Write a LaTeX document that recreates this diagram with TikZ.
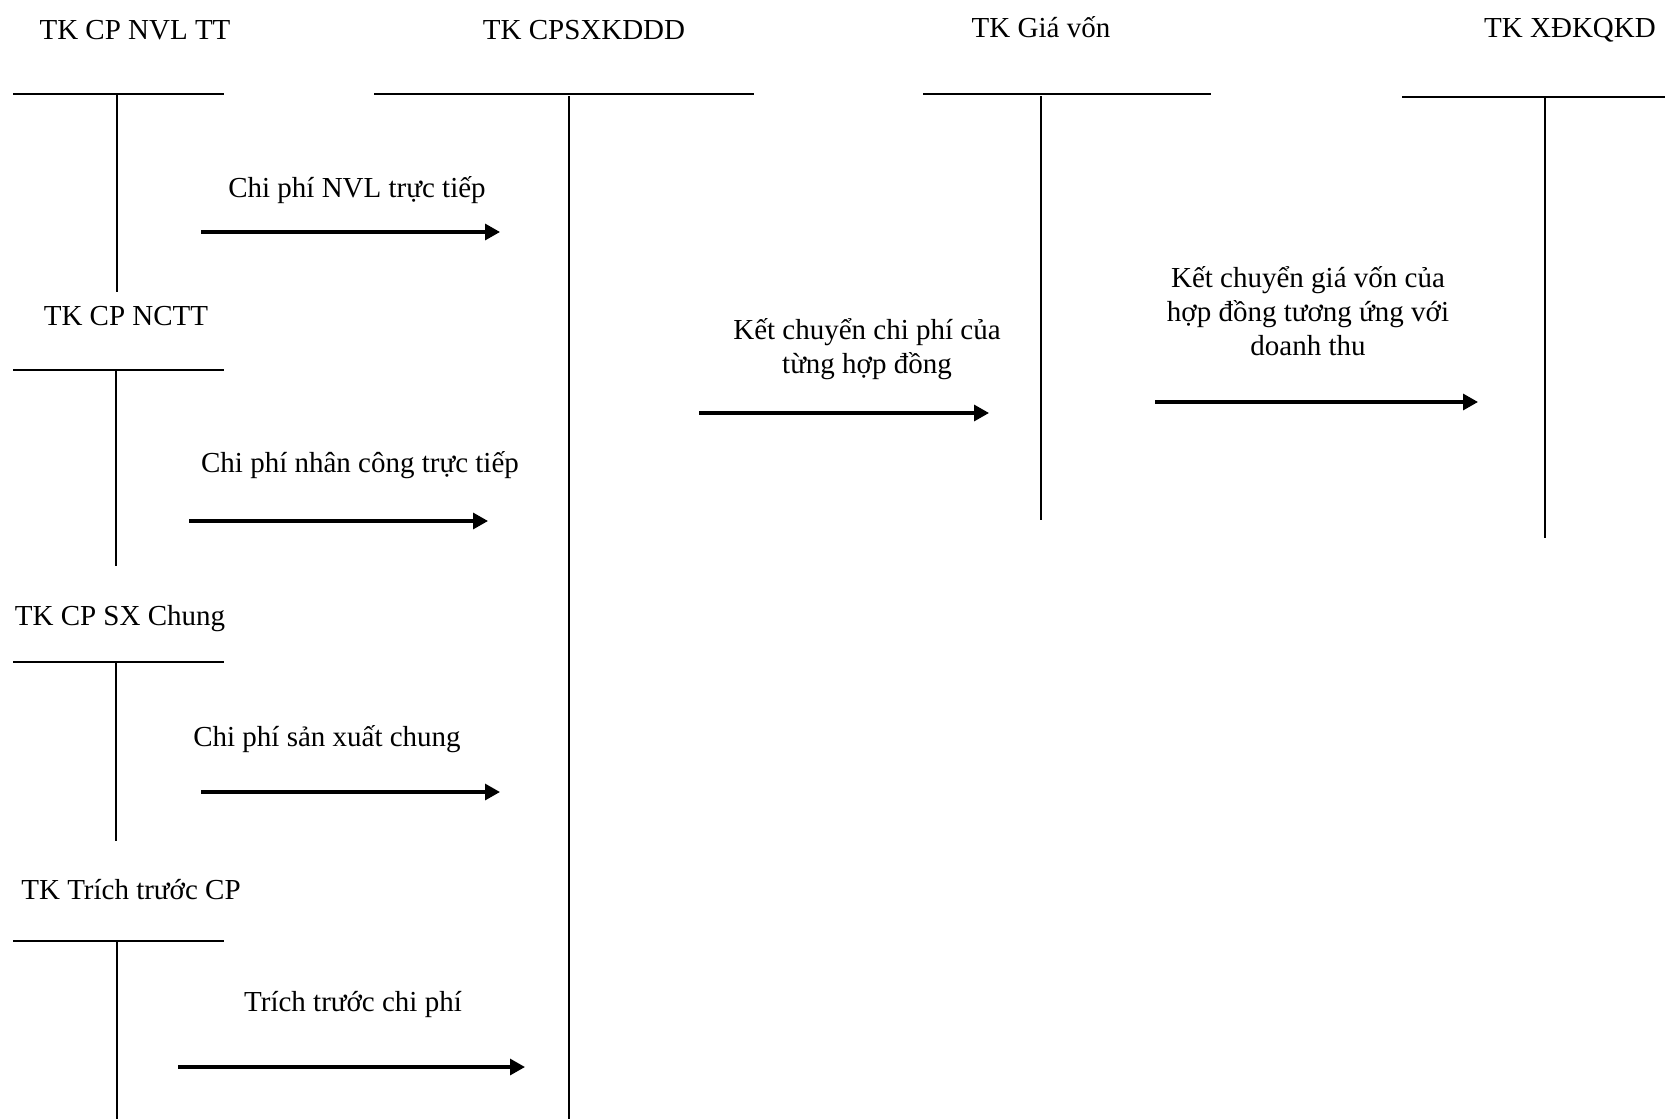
\documentclass[tikz,border=0pt]{standalone}
\usepackage{fontspec}
\setmainfont{Liberation Serif}
\usetikzlibrary{arrows.meta}
\begin{document}
\begin{tikzpicture}[x=1pt,y=-1pt,
  lbl/.style={inner sep=0pt,font=\fontsize{29}{34}\selectfont,align=center},
  tbar/.style={line width=2.2pt},
  tstem/.style={line width=1.6pt},
  flow/.style={line width=3.2pt,-{Triangle[length=15pt,width=16pt]}}]
\useasboundingbox (0,0) rectangle (1665,1119);

% account titles
\node[lbl] (hNVL) at (135,30) {TK CP NVL TT};
\node[lbl] (hSX)  at (584,30) {TK CPSXKDDD};
\node[lbl] (hGV)  at (1041,27) {TK Giá vốn};
\node[lbl] (hKQ)  at (1570,30) {TK XĐKQKD};
\node[lbl] (hNC)  at (126,316) {TK CP NCTT};
\node[lbl] (hSC)  at (120,619) {TK CP SX Chung};
\node[lbl] (hTT)  at (131,890) {TK Trích trước CP};

% T-accounts: bar ends and stem ends
\coordinate (nvlL) at (13,94);   \coordinate (nvlR) at (224,94);
\coordinate (nvlT) at (117,94);  \coordinate (nvlB) at (117,292);
\coordinate (sxL) at (374,94);   \coordinate (sxR) at (754,94);
\coordinate (sxT) at (569,96);   \coordinate (sxB) at (569,1119);
\coordinate (gvL) at (923,94);   \coordinate (gvR) at (1211,94);
\coordinate (gvT) at (1041,96);  \coordinate (gvB) at (1041,520);
\coordinate (kqL) at (1402,97);  \coordinate (kqR) at (1665,97);
\coordinate (kqT) at (1545,97);  \coordinate (kqB) at (1545,538);
\coordinate (ncL) at (13,370);   \coordinate (ncR) at (224,370);
\coordinate (ncT) at (116,370);  \coordinate (ncB) at (116,566);
\coordinate (scL) at (13,662);   \coordinate (scR) at (224,662);
\coordinate (scT) at (116,662);  \coordinate (scB) at (116,841);
\coordinate (ttL) at (13,941);   \coordinate (ttR) at (224,941);
\coordinate (ttT) at (117,941);  \coordinate (ttB) at (117,1119);

\foreach \a in {nvl,sx,gv,kq,nc,sc,tt}{
  \draw[tbar] (\a L) -- (\a R);
  \draw[tstem] (\a T) -- (\a B);
}

% postings
\node[lbl] (lNVL) at (357,190) {Chi phí NVL trực tiếp};
\coordinate (a1s) at (201,232); \coordinate (a1e) at (500,232);
\draw[flow] (a1s) -- (a1e);

\node[lbl] (lNC) at (360,465) {Chi phí nhân công trực tiếp};
\coordinate (a2s) at (189,521); \coordinate (a2e) at (488,521);
\draw[flow] (a2s) -- (a2e);

\node[lbl] (lSC) at (327,739) {Chi phí sản xuất chung};
\coordinate (a3s) at (201,792); \coordinate (a3e) at (500,792);
\draw[flow] (a3s) -- (a3e);

\node[lbl] (lTT) at (353,1004) {Trích trước chi phí};
\coordinate (a4s) at (178,1067); \coordinate (a4e) at (525,1067);
\draw[flow] (a4s) -- (a4e);

\node[lbl] (lKC) at (867,349) {Kết chuyển chi phí của\\từng hợp đồng};
\coordinate (a5s) at (699,413); \coordinate (a5e) at (989,413);
\draw[flow] (a5s) -- (a5e);

\node[lbl] (lGV) at (1308,311) {Kết chuyển giá vốn của\\hợp đồng tương ứng với\\doanh thu};
\coordinate (a6s) at (1155,402); \coordinate (a6e) at (1478,402);
\draw[flow] (a6s) -- (a6e);
\end{tikzpicture}
\end{document}
